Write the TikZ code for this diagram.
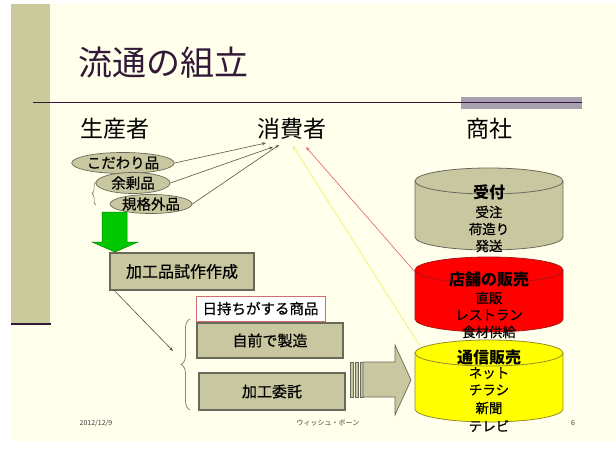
\documentclass[tikz,border=0pt]{standalone}
\usepackage{fontspec}
\setmainfont{Noto Sans CJK JP}
\newfontfamily\medfont{Noto Sans CJK JP}[FakeBold=0.6]
\usetikzlibrary{shapes.geometric,arrows.meta,decorations.pathreplacing}
\definecolor{bg}{RGB}{255,255,236}
\definecolor{olivebar}{RGB}{203,202,156}
\definecolor{olivefill}{RGB}{201,199,160}
\definecolor{boxline}{RGB}{105,105,92}
\definecolor{titlecol}{RGB}{50,25,55}
\definecolor{greybar}{RGB}{168,160,176}
\definecolor{framered}{RGB}{210,110,110}
\definecolor{arrowgreen}{RGB}{0,200,0}
\definecolor{darkgreen}{RGB}{0,130,0}
\definecolor{lineyellow}{RGB}{240,240,110}
\definecolor{linered}{RGB}{225,100,100}
\definecolor{cylred}{RGB}{255,0,0}
\definecolor{cylredline}{RGB}{170,20,20}
\definecolor{cylyellow}{RGB}{255,255,0}
\definecolor{cylyellowline}{RGB}{150,140,40}
\newcommand\drawcyl[6]{%
  \filldraw[fill=#5, draw=#6, line width=0.8pt] (#1,#3+13) -- (#1,#4-13)
    arc[start angle=180,end angle=360,x radius=74pt,y radius=13pt] -- (#2,#3+13)
    arc[start angle=0,end angle=180,x radius=74pt,y radius=13pt] -- cycle;
  \draw[#6, line width=0.8pt] (#1,#3+13) arc[start angle=180,end angle=360,x radius=74pt,y radius=13pt];
}
\tikzset{
  heading/.style={inner sep=0, font=\fontsize{23}{26}\selectfont},
  oval/.style={ellipse, draw=boxline, fill=olivefill, line width=0.7pt, inner sep=0, font=\medfont\fontsize{14.5}{16}\selectfont},
  olivebox/.style={rectangle, draw=boxline, fill=olivefill, line width=1.2pt, inner sep=0, font=\medfont\fontsize{15}{18}\selectfont},
  cyltitle/.style={inner sep=0, font=\fontsize{16}{18}\selectfont\bfseries},
  cyltext/.style={inner sep=0, font=\medfont\fontsize{13.5}{15}\selectfont},
  thinarrow/.style={draw=boxline!80!black, line width=0.6pt, -{Stealth[length=4pt,width=3pt]}},
  footer/.style={inner sep=0, font=\fontsize{7}{8}\selectfont, text=black!75}
}
\begin{document}
\begin{tikzpicture}[x=1pt,y=-1pt]
\useasboundingbox (0,0) rectangle (616,452);
\fill[white] (0,0) rectangle (616,452);
\fill[bg] (11,4) rectangle (616,441);
\fill[olivebar] (11,4) rectangle (50,324);
\draw[titlecol, line width=1.6pt] (11,324) -- (51,324);
\fill[greybar] (461,97) rectangle (582,109);
\draw[titlecol, line width=0.9pt] (33,102) -- (582,102);

\node[anchor=west, inner sep=0, font=\fontsize{34}{40}\selectfont, text=titlecol] (title) at (78,63) {流通の組立};

\node[heading] (prod) at (115,129) {生産者};
\node[heading] (cons) at (292,129) {消費者};
\node[heading] (trade) at (489,129) {商社};

% ellipses
\node[oval, minimum width=80pt, minimum height=21pt] (e1) at (123,163) {こだわり品};
\node[oval, minimum width=74pt, minimum height=21pt] (e2) at (133,183) {余剰品};
\node[oval, minimum width=78pt, minimum height=19pt] (e3) at (151,204) {規格外品};
\draw[boxline, line width=0.5pt, decorate, decoration={brace, amplitude=4pt}] (96,205) -- (96,182);

% arrows to consumer
\coordinate (c1) at (266,143);
\coordinate (c2) at (273,147);
\coordinate (c3) at (279,145);
\draw[thinarrow] (e1.east) -- (c1);
\draw[thinarrow] (e2.east) -- (c2);
\draw[thinarrow] (e3.east) -- (c3);

% green arrow
\filldraw[fill=arrowgreen, draw=darkgreen, line width=0.5pt]
  (102,212) -- (127,212) -- (127,242) -- (138,242) -- (115,252) -- (92,242) -- (102,242) -- cycle;

% boxes
\node[olivebox, minimum width=144pt, minimum height=37pt, font=\medfont\fontsize{16}{18}\selectfont] (proto) at (182,271.5) {加工品試作作成};
\node[rectangle, draw=framered, fill=white, line width=0.8pt, minimum width=129pt, minimum height=25pt, inner sep=0, font=\medfont\fontsize{14.5}{17}\selectfont] (keep) at (260.5,308.5) {日持ちがする商品};
\node[olivebox, minimum width=146pt, minimum height=35pt] (self) at (270,340.5) {自前で製造};
\node[olivebox, minimum width=146pt, minimum height=37pt] (outs) at (272,391.5) {加工委託};

\draw[boxline!80, line width=0.8pt, decorate, decoration={brace, amplitude=9pt}] (190,410) -- (190,319);
\coordinate (brtip) at (173,351);
\draw[thinarrow] (proto.south west) ++(5,0) coordinate (pstart) -- (brtip);

% block arrow
\foreach \xa/\xb in {350/353,355/358,360/363}
  \filldraw[fill=olivefill, draw=boxline, line width=0.5pt] (\xa,362) rectangle (\xb,397);
\filldraw[fill=olivefill, draw=boxline, line width=0.7pt]
  (363,362) -- (395,362) -- (395,345) -- (411,380) -- (395,415) -- (395,397) -- (363,397) -- cycle;

% cylinders
\drawcyl{415}{563}{168}{250}{olivefill}{boxline}
\node[cyltitle] (uke) at (489,192) {受付};
\node[cyltext] (u1) at (489,212) {受注};
\node[cyltext] (u2) at (489,229) {荷造り};
\node[cyltext] (u3) at (489,246) {発送};

\drawcyl{415}{563}{257}{332}{cylred}{cylredline}
\node[cyltitle] (shop) at (489,279) {店舗の販売};
\node[cyltext] (s1) at (489,298) {直販};
\node[cyltext] (s2) at (489,315) {レストラン};
\node[cyltext] (s3) at (489,332) {食材供給};

\drawcyl{415}{563}{340}{422}{cylyellow}{cylyellowline}
\node[cyltitle] (mail) at (489,357) {通信販売};
\node[cyltext] (m1) at (489,373) {ネット};
\node[cyltext] (m2) at (489,390) {チラシ};
\node[cyltext] (m3) at (489,408) {新聞};
\node[cyltext] (m4) at (489,426) {テレビ};

% yellow and red connectors
\coordinate (yTop) at (293,146);
\coordinate (yCyl) at (420,346);
\coordinate (rTop) at (306,147);
\coordinate (rCyl) at (415,272);
\draw[lineyellow, line width=0.7pt, -{Stealth[length=4pt,width=3.5pt]}] (yCyl) -- (yTop);
\draw[linered, line width=0.6pt, -{Stealth[length=4pt,width=3pt]}] (rCyl) -- (rTop);

% footer
\node[footer] (date) at (96,423) {2012/12/9};
\node[footer] (org) at (328,423) {ウィッシュ・ボーン};
\node[footer] (page) at (573,423) {6};
\end{tikzpicture}
\end{document}
